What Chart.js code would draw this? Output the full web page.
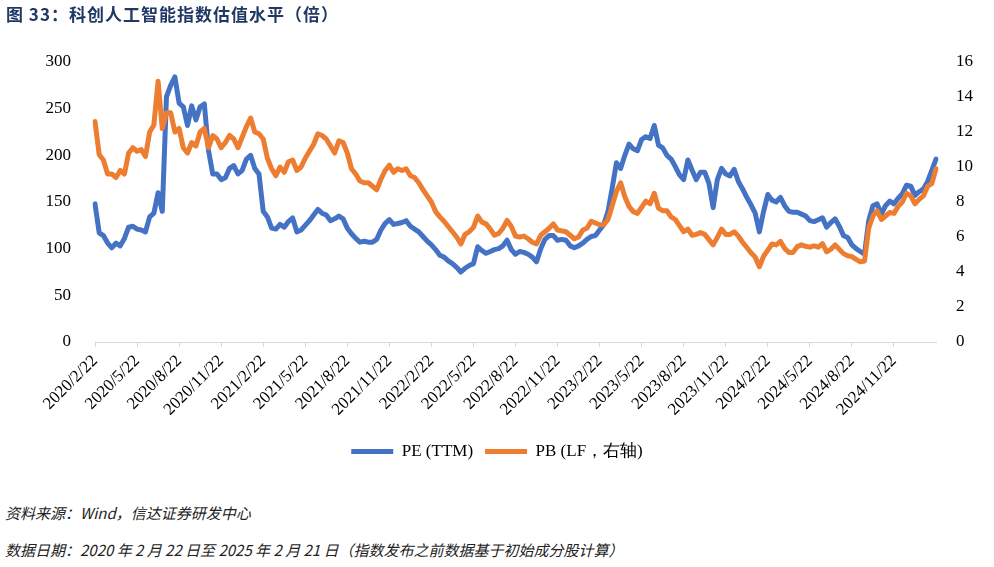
<!DOCTYPE html>
<html>
<head>
<meta charset="utf-8">
<script src="https://cdn.jsdelivr.net/npm/chart.js@4.4.1/dist/chart.umd.min.js"></script>
<style>
  body { margin: 0; background: #fff; width: 994px; height: 567px; position: relative; overflow: hidden; }
  canvas { position: absolute; left: 0; top: 0; }
  #title { position: absolute; left: 6px; top: 1px; font: bold 17px "Noto Sans CJK SC", sans-serif; color: #1f3864; letter-spacing: 1px; }
  .note { position: absolute; left: 5px; font: italic 15px "Noto Sans CJK SC", sans-serif; color: #222; }
</style>
</head>
<body>
<canvas id="chart" width="994" height="480"></canvas>
<div id="title">图 33：科创人工智能指数估值水平（倍）</div>
<div class="note" style="top:502px">资料来源：Wind，信达证券研发中心</div>
<div class="note" style="top:539px">数据日期：2020 年 2 月 22 日至 2025 年 2 月 21 日（指数发布之前数据基于初始成分股计算）</div>
<script>
// one label every 10 points (a quarter), series runs 2020/2/22 -> 2025/2/21
var tickLabels = ['2020/2/22', '2020/5/22', '2020/8/22', '2020/11/22',
  '2021/2/22', '2021/5/22', '2021/8/22', '2021/11/22',
  '2022/2/22', '2022/5/22', '2022/8/22', '2022/11/22',
  '2023/2/22', '2023/5/22', '2023/8/22', '2023/11/22',
  '2024/2/22', '2024/5/22', '2024/8/22', '2024/11/22'];

// PE (TTM), left axis
var pe = [148, 117, 114, 106, 101, 106, 103, 111, 123, 124,
  121, 120, 118, 134, 138, 160, 140, 263, 275, 284,
  256, 252, 232, 253, 238, 252, 255, 205, 180, 180,
  174, 176, 186, 189, 180, 184, 196, 200, 186, 180,
  140, 134, 122, 121, 126, 123, 129, 133, 118, 120,
  125, 130, 136, 142, 138, 136, 130, 132, 135, 132,
  122, 116, 111, 107, 108, 107, 107, 110, 120, 127,
  131, 126, 127, 128, 130, 124, 121, 118, 113, 108,
  104, 99, 93, 91, 87, 84, 80, 75, 79, 82,
  84, 102, 98, 95, 97, 99, 100, 103, 109, 99,
  94, 97, 96, 94, 91, 86, 100, 110, 114, 114,
  109, 110, 109, 103, 101, 103, 106, 110, 113, 114,
  120, 126, 140, 165, 192, 186, 200, 212, 207, 205,
  217, 220, 218, 232, 211, 208, 200, 196, 188, 179,
  174, 195, 184, 174, 182, 182, 170, 144, 174, 186,
  180, 178, 185, 172, 164, 155, 147, 138, 118, 140,
  158, 152, 150, 155, 146, 140, 139, 139, 137, 135,
  130, 129, 131, 133, 123, 128, 132, 124, 114, 112,
  104, 100, 97, 94, 130, 146, 148, 137, 146, 151,
  148, 154, 159, 168, 167, 157, 161, 164, 172, 184, 196];

// PB (LF), right axis
var pb = [12.6, 10.7, 10.4, 9.6, 9.6, 9.4, 9.8, 9.6, 10.8, 11.1,
  10.9, 11.0, 10.6, 12.0, 12.4, 14.9, 12.2, 13.1, 13.1, 12.0,
  12.2, 11.1, 10.8, 11.4, 11.2, 12.0, 12.2, 11.1, 11.8, 11.6,
  11.1, 11.4, 11.8, 11.6, 11.1, 11.7, 12.3, 12.8, 12.0, 11.9,
  11.6, 10.5, 9.9, 9.5, 10.0, 9.7, 10.3, 10.4, 9.8, 10.0,
  10.5, 10.9, 11.3, 11.9, 11.8, 11.6, 11.2, 10.8, 11.5, 11.4,
  10.8, 9.9, 9.6, 9.2, 9.1, 9.1, 8.9, 8.7, 9.3, 9.8,
  10.1, 9.7, 9.9, 9.8, 9.9, 9.5, 9.4, 9.1, 8.7, 8.35,
  8.0, 7.45, 7.15, 6.9, 6.6, 6.3, 6.0, 5.6, 6.15, 6.3,
  6.55, 7.2, 6.85, 6.75, 6.45, 6.1, 6.2, 6.5, 6.95, 6.6,
  6.05, 6.0, 6.05, 5.9, 5.7, 5.6, 6.1, 6.3, 6.5, 6.75,
  6.4, 6.35, 6.3, 6.1, 5.9, 6.0, 6.4, 6.5, 6.9, 6.8,
  6.7, 6.7, 7.0, 7.8, 8.6, 9.1, 8.3, 7.75, 7.45, 7.35,
  7.7, 8.05, 7.9, 8.5, 7.65, 7.5, 7.5, 7.15, 7.0, 6.65,
  6.3, 6.45, 6.1, 6.15, 6.25, 6.15, 5.85, 5.55, 5.98, 6.45,
  6.15, 6.15, 6.3, 6.05, 5.7, 5.4, 5.1, 4.85, 4.3, 4.9,
  5.25, 5.6, 5.55, 5.75, 5.35, 5.12, 5.12, 5.45, 5.55, 5.47,
  5.42, 5.5, 5.42, 5.62, 5.15, 5.3, 5.55, 5.3, 5.05, 4.93,
  4.88, 4.72, 4.58, 4.63, 6.5, 7.2, 7.5, 7.0, 7.2, 7.4,
  7.35, 7.75, 8.0, 8.5, 8.35, 7.9, 8.15, 8.35, 8.9, 9.05, 9.9];

var labels = pe.map(function (v, i) {
  return (i % 10 === 0 && i / 10 < tickLabels.length) ? tickLabels[i / 10] : '';
});

var serif = '"Liberation Serif", "Times New Roman", serif';
var axisFont = { family: serif, size: 17 };

new Chart(document.getElementById('chart'), {
  type: 'line',
  data: {
    labels: labels,
    datasets: [
      {
        label: 'PE (TTM)',
        data: pe,
        yAxisID: 'y',
        borderColor: '#4472C4',
        backgroundColor: '#4472C4',
        borderWidth: 5,
        borderCapStyle: 'round',
        borderJoinStyle: 'round',
        pointRadius: 0,
        order: 1
      },
      {
        label: 'PB (LF，右轴)',
        data: pb,
        yAxisID: 'y1',
        borderColor: '#ED7D31',
        backgroundColor: '#ED7D31',
        borderWidth: 5,
        borderCapStyle: 'round',
        borderJoinStyle: 'round',
        pointRadius: 0,
        order: 0
      }
    ]
  },
  options: {
    responsive: false,
    animation: false,
    layout: { padding: { top: 62, bottom: 10, left: 0, right: 0 } },
    plugins: {
      tooltip: { enabled: false },
      legend: {
        position: 'bottom',
        labels: {
          usePointStyle: true,
          pointStyle: 'line',
          pointStyleWidth: 42,
          font: { family: serif, size: 17 },
          color: '#000',
          padding: 12,
          sort: function (a, b) { return a.datasetIndex - b.datasetIndex; }
        }
      }
    },
    scales: {
      x: {
        grid: {
          drawOnChartArea: false,
          tickLength: 5,
          color: function (c) { return (c.index % 10 === 0 && c.index < 200) ? '#d9d9d9' : 'rgba(0,0,0,0)'; }
        },
        border: { color: '#d9d9d9', width: 1 },
        ticks: { autoSkip: false, minRotation: 45, maxRotation: 45, font: axisFont, color: '#000', padding: 4 },
        afterFit: function (s) { s.height = 89; }
      },
      y: {
        position: 'left',
        min: 0,
        max: 300,
        ticks: { stepSize: 50, font: axisFont, color: '#000', padding: 16 },
        grid: { display: false },
        border: { display: false },
        afterFit: function (s) { s.width = 95; }
      },
      y1: {
        position: 'right',
        min: 0,
        max: 16,
        ticks: { stepSize: 2, font: axisFont, color: '#000', padding: 12 },
        grid: { display: false },
        border: { display: false },
        afterFit: function (s) { s.width = 58; }
      }
    }
  }
});
</script>
</body>
</html>
